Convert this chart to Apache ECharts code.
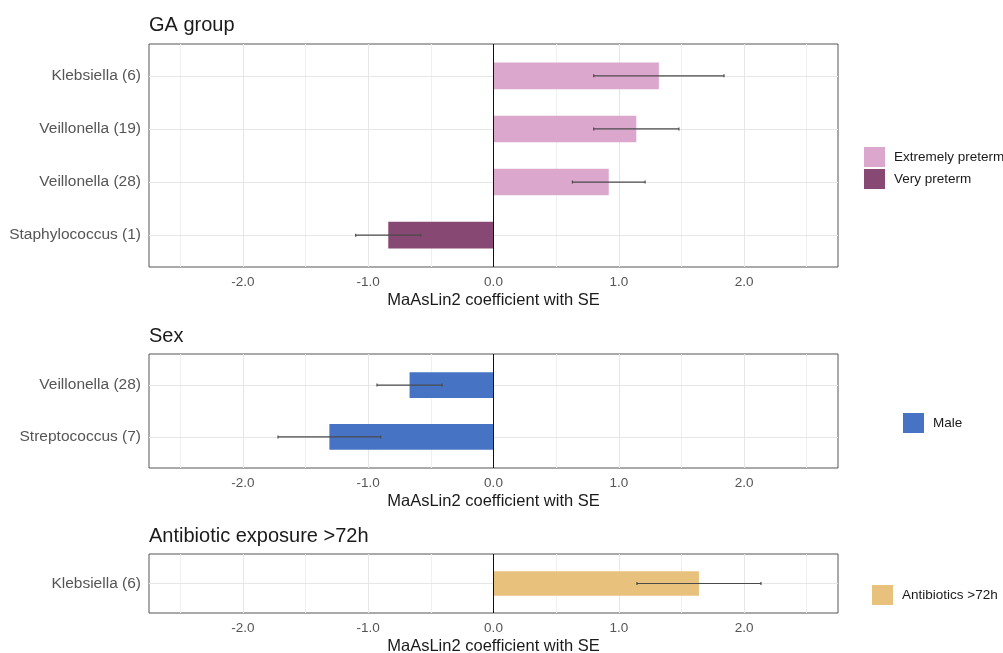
<!DOCTYPE html>
<html>
<head>
<meta charset="utf-8">
<title>MaAsLin2 coefficients</title>
<script src="https://cdn.jsdelivr.net/npm/echarts@6/dist/echarts.min.js"></script>
<style>
  html, body { margin: 0; padding: 0; background: #ffffff; }
  #chart { width: 1003px; height: 653px; }
</style>
</head>
<body>
<div id="chart"></div>
<script>
// ---- data ----
const gaCategories = ['Klebsiella (6)', 'Veillonella (19)', 'Veillonella (28)', 'Staphylococcus (1)'];
const gaCoef = [1.32, 1.14, 0.92, -0.84];
const gaSE = [0.52, 0.34, 0.29, 0.26];
const gaGroup = ['Extremely preterm', 'Extremely preterm', 'Extremely preterm', 'Very preterm'];

const sexCategories = ['Veillonella (28)', 'Streptococcus (7)'];
const sexCoef = [-0.67, -1.31];
const sexSE = [0.26, 0.41];
const sexGroup = ['Male', 'Male'];

const abxCategories = ['Klebsiella (6)'];
const abxCoef = [1.64];
const abxSE = [0.495];
const abxGroup = ['Antibiotics >72h'];

const xMajorTicks = [-2, -1, 0, 1, 2];
const xMinorTicks = [-2.5, -1.5, -0.5, 0.5, 1.5, 2.5];
const panelTitles = ['GA group', 'Sex', 'Antibiotic exposure >72h'];
const xAxisTitle = 'MaAsLin2 coefficient with SE';

// ---- styling ----
const FONT = '"Liberation Sans", Arial, sans-serif';
const groupColors = {
  'Extremely preterm': '#dba7cd',
  'Very preterm': '#874873',
  'Male': '#4673c4',
  'Antibiotics >72h': '#e8c27c'
};

const panels = [
  { title: panelTitles[0], cats: gaCategories, coef: gaCoef, se: gaSE, group: gaGroup,
    top: 44, height: 223, titleTop: 10, legendLeft: 859, legendTop: 142 },
  { title: panelTitles[1], cats: sexCategories, coef: sexCoef, se: sexSE, group: sexGroup,
    top: 354, height: 114, titleTop: 321, legendLeft: 898, legendTop: 408 },
  { title: panelTitles[2], cats: abxCategories, coef: abxCoef, se: abxSE, group: abxGroup,
    top: 554, height: 59, titleTop: 521, legendLeft: 867, legendTop: 580 }
];

const PLOT_LEFT = 149;
const PLOT_WIDTH = 689;

const grid = [], xAxis = [], yAxis = [], series = [], title = [], legend = [];

function renderBar(params, api) {
  const i = api.value(0);
  const v = api.value(1);
  const p0 = api.coord([0, i]);
  const p1 = api.coord([v, i]);
  const h = api.size([0, 1])[1] * 0.5;
  return {
    type: 'rect',
    shape: { x: Math.min(p0[0], p1[0]), y: p0[1] - h / 2, width: Math.abs(p1[0] - p0[0]), height: h },
    style: api.style()
  };
}

function renderErrorBar(params, api) {
  const i = api.value(0);
  const v = api.value(1);
  const se = api.value(2);
  const a = api.coord([v - se, i]);
  const b = api.coord([v + se, i]);
  const cap = 1.5;
  const st = { stroke: '#4a4a4a', lineWidth: 1.2, fill: null };
  return {
    type: 'group',
    children: [
      { type: 'line', shape: { x1: a[0], y1: a[1], x2: b[0], y2: b[1] }, style: st },
      { type: 'line', shape: { x1: a[0], y1: a[1] - cap, x2: a[0], y2: a[1] + cap }, style: st },
      { type: 'line', shape: { x1: b[0], y1: b[1] - cap, x2: b[0], y2: b[1] + cap }, style: st }
    ]
  };
}

panels.forEach(function (p, k) {
  const n = p.cats.length;
  const catIdx = p.cats.map(function (_, i) { return i; });

  grid.push({
    left: PLOT_LEFT, width: PLOT_WIDTH, top: p.top, height: p.height,
    outerBoundsMode: 'none', containLabel: false,
    show: true, borderColor: '#555555', borderWidth: 1, backgroundColor: '#ffffff'
  });

  xAxis.push({
    type: 'value', gridIndex: k, min: -2.75, max: 2.75,
    axisLine: { show: false },
    axisTick: { show: true, customValues: xMajorTicks, length: 4, lineStyle: { color: '#444444' } },
    axisLabel: {
      customValues: xMajorTicks, margin: 8, fontSize: 13.5, color: '#555555', fontFamily: FONT,
      formatter: function (v) { return Number(v).toFixed(1); }
    },
    splitLine: { show: false },
    name: xAxisTitle, nameLocation: 'middle', nameGap: 25,
    nameTextStyle: { fontSize: 16.5, color: '#1a1a1a', fontFamily: FONT }
  });

  yAxis.push({
    type: 'value', gridIndex: k, min: -0.6, max: n - 0.4, inverse: true,
    axisLine: { show: false },
    axisTick: { show: true, customValues: catIdx, length: 4, lineStyle: { color: '#444444' } },
    axisLabel: {
      customValues: catIdx, margin: 8, fontSize: 15.5, color: '#555555', fontFamily: FONT,
      formatter: function (v) { return p.cats[Math.round(v)]; }
    },
    splitLine: { show: false }
  });

  // background grid lines
  const gridLines = [];
  xMinorTicks.forEach(function (v) {
    gridLines.push({ xAxis: v, lineStyle: { color: '#f0f0f0', width: 1, type: 'solid' } });
  });
  xMajorTicks.forEach(function (v) {
    gridLines.push({ xAxis: v, lineStyle: { color: '#e6e6e6', width: 1, type: 'solid' } });
  });
  catIdx.forEach(function (i) {
    gridLines.push({ yAxis: i, lineStyle: { color: '#e6e6e6', width: 1, type: 'solid' } });
  });
  series.push({
    type: 'line', xAxisIndex: k, yAxisIndex: k, data: [], z: 1, silent: true,
    markLine: { z: 1, silent: true, symbol: ['none', 'none'], label: { show: false }, data: gridLines, animation: false }
  });

  // bars, one series per group so each gets a legend entry
  const groups = [];
  p.group.forEach(function (g) { if (groups.indexOf(g) < 0) groups.push(g); });
  groups.forEach(function (g) {
    const data = [];
    p.cats.forEach(function (c, i) { if (p.group[i] === g) data.push([i, p.coef[i]]); });
    series.push({
      type: 'custom', name: g, xAxisIndex: k, yAxisIndex: k, z: 2,
      itemStyle: { color: groupColors[g] },
      encode: { x: 1, y: 0 },
      renderItem: renderBar,
      data: data
    });
  });

  // standard-error bars
  series.push({
    type: 'custom', name: 'SE', xAxisIndex: k, yAxisIndex: k, z: 3,
    encode: { x: 1, y: 0 },
    renderItem: renderErrorBar,
    data: p.cats.map(function (c, i) { return [i, p.coef[i], p.se[i]]; })
  });

  // zero reference line
  series.push({
    type: 'line', xAxisIndex: k, yAxisIndex: k, data: [], z: 4, silent: true,
    markLine: {
      z: 5, silent: true, symbol: ['none', 'none'], label: { show: false }, animation: false,
      data: [{ xAxis: 0, lineStyle: { color: '#111111', width: 1, type: 'solid' } }]
    }
  });

  title.push({
    text: p.title, left: PLOT_LEFT - 5, top: p.titleTop,
    textStyle: { fontSize: 20, fontWeight: 'normal', color: '#1a1a1a', fontFamily: FONT }
  });

  legend.push({
    data: groups, left: p.legendLeft, top: p.legendTop, orient: 'vertical',
    icon: 'rect', itemWidth: 21, itemHeight: 20, itemGap: 2,
    selectedMode: false,
    textStyle: { fontSize: 13.5, color: '#1a1a1a', fontFamily: FONT, padding: [0, 0, 0, 4] }
  });
});

const chart = echarts.init(document.getElementById('chart'), null, { renderer: 'canvas' });
chart.setOption({
  animation: false,
  backgroundColor: '#ffffff',
  textStyle: { fontFamily: FONT },
  title: title,
  legend: legend,
  grid: grid,
  xAxis: xAxis,
  yAxis: yAxis,
  series: series
});
</script>
</body>
</html>
